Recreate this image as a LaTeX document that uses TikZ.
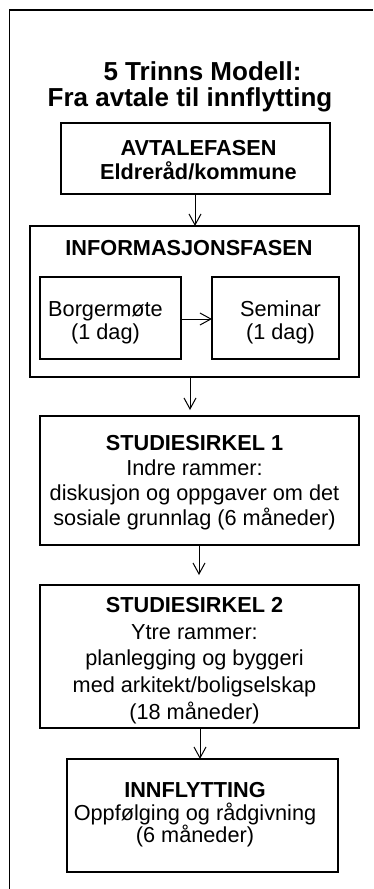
\documentclass[tikz,border=0pt]{standalone}
\usepackage{fontspec}
\setmainfont{Liberation Sans}
\usetikzlibrary{arrows.meta}
\begin{document}
\begin{tikzpicture}[x=1pt,y=-1pt,
  box/.style={draw, line width=1.1pt, inner sep=0pt, outer sep=0pt},
  body/.style={align=center, inner sep=0pt},
  arr/.style={-{Straight Barb[length=11pt,width=12pt]}, line width=1pt},
]
\useasboundingbox (0,0) rectangle (373,889);
% outer frame (cropped at right and bottom)
\draw[line width=1.2pt] (9.5,889) -- (9.5,10) -- (373,10);

% title
\node[body, font=\fontsize{26}{26}\selectfont\bfseries] (title) at (190,86.5)
  {\hspace*{25pt}5 Trinns Modell:\\Fra avtale til innflytting};

% boxes
\node[box, minimum width=269pt, minimum height=71pt] (avt) at (195.5,158.5) {};
\node[box, minimum width=329pt, minimum height=151pt] (info) at (194.5,301.5) {};
\node[box, minimum width=141pt, minimum height=82pt] (borger) at (110.5,318) {};
\node[box, minimum width=127pt, minimum height=82pt] (seminar) at (275.5,318) {};
\node[box, minimum width=319pt, minimum height=129pt] (s1) at (199.5,480.5) {};
\node[box, minimum width=319pt, minimum height=143pt] (s2) at (199.5,656.5) {};
\node[box, minimum width=271pt, minimum height=113pt] (inn) at (202.5,815.5) {};

% texts
\node[body, font=\fontsize{21.7}{24}\selectfont\bfseries] (avt-t) at (198.5,160)
  {AVTALEFASEN\\Eldreråd/kommune};
\node[body, font=\fontsize{21.7}{24}\selectfont\bfseries] (info-t) at (189,248)
  {INFORMASJONSFASEN};
\node[body, font=\fontsize{21.7}{23}\selectfont] (borger-t) at (105.5,322.5)
  {Borgermøte\\(1 dag)};
\node[body, font=\fontsize{21.7}{23}\selectfont] (seminar-t) at (280.5,322.5)
  {Seminar\\(1 dag)};
\node[body, font=\fontsize{21.7}{25}\selectfont] (s1-t) at (194.5,482.5)
  {\textbf{STUDIESIRKEL 1}\\Indre rammer:\\diskusjon og oppgaver om det\\sosiale grunnlag (6 måneder)};
\node[body, font=\fontsize{21.7}{26.75}\selectfont] (s2-t) at (194.5,660.5)
  {\textbf{STUDIESIRKEL 2}\\Ytre rammer:\\planlegging og byggeri\\med arkitekt/boligselskap\\(18 måneder)};
\node[body, font=\fontsize{21.7}{22.5}\selectfont] (inn-t) at (195,815)
  {\textbf{INNFLYTTING}\\Oppfølging og rådgivning\\(6 måneder)};

% connectors
\draw[arr] (avt.south -| 195,0) -- (info.north -| 195,0);
\draw[arr] (borger.east |- 0,319) -- (seminar.west |- 0,319);
\draw[arr, shorten >=6pt] (info.south -| 190,0) -- (s1.north -| 190,0);
\draw[arr, shorten >=10pt] (s1.south -| 199,0) -- (s2.north -| 199,0);
\draw[arr] (s2.south -| 200,0) -- (inn.north -| 200,0);
\end{tikzpicture}
\end{document}
